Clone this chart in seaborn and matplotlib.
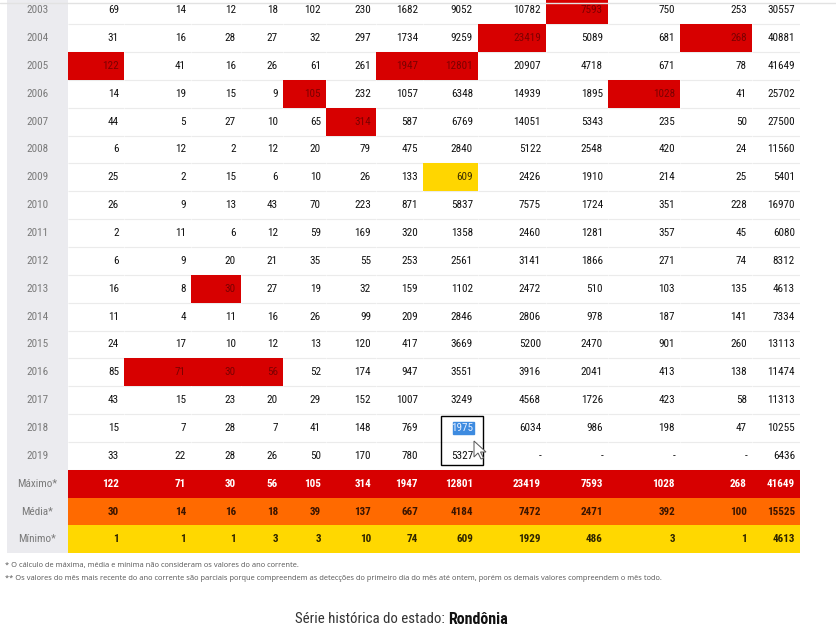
import numpy as np
import pandas as pd
import matplotlib
matplotlib.use('Agg')
import matplotlib.pyplot as plt
from matplotlib.colors import ListedColormap
from matplotlib.patches import Rectangle, Polygon
import seaborn as sns

# tabela de focos de queimadas - Rondonia
meses = ['Janeiro', 'Fevereiro', 'Marco', 'Abril', 'Maio', 'Junho', 'Julho',
         'Agosto', 'Setembro', 'Outubro', 'Novembro', 'Dezembro', 'Total']
anos = list(range(2003, 2020))

y2003 = [69, 14, 12, 18, 102, 230, 1682, 9052, 10782, 7593, 750, 253, 30557]
y2004 = [31, 16, 28, 27, 32, 297, 1734, 9259, 23419, 5089, 681, 268, 40881]
y2005 = [122, 41, 16, 26, 61, 261, 1947, 12801, 20907, 4718, 671, 78, 41649]
y2006 = [14, 19, 15, 9, 105, 232, 1057, 6348, 14939, 1895, 1028, 41, 25702]
y2007 = [44, 5, 27, 10, 65, 314, 587, 6769, 14051, 5343, 235, 50, 27500]
y2008 = [6, 12, 2, 12, 20, 79, 475, 2840, 5122, 2548, 420, 24, 11560]
y2009 = [25, 2, 15, 6, 10, 26, 133, 609, 2426, 1910, 214, 25, 5401]
y2010 = [26, 9, 13, 43, 70, 223, 871, 5837, 7575, 1724, 351, 228, 16970]
y2011 = [2, 11, 6, 12, 59, 169, 320, 1358, 2460, 1281, 357, 45, 6080]
y2012 = [6, 9, 20, 21, 35, 55, 253, 2561, 3141, 1866, 271, 74, 8312]
y2013 = [16, 8, 30, 27, 19, 32, 159, 1102, 2472, 510, 103, 135, 4613]
y2014 = [11, 4, 11, 16, 26, 99, 209, 2846, 2806, 978, 187, 141, 7334]
y2015 = [24, 17, 10, 12, 13, 120, 417, 3669, 5200, 2470, 901, 260, 13113]
y2016 = [85, 71, 30, 56, 52, 174, 947, 3551, 3916, 2041, 413, 138, 11474]
y2017 = [43, 15, 23, 20, 29, 152, 1007, 3249, 4568, 1726, 423, 58, 11313]
y2018 = [15, 7, 28, 7, 41, 148, 769, 1975, 6034, 986, 198, 47, 10255]
y2019 = [33, 22, 28, 26, 50, 170, 780, 5327, None, None, None, None, 6436]

maximo = [122, 71, 30, 56, 105, 314, 1947, 12801, 23419, 7593, 1028, 268, 41649]
media = [30, 14, 16, 18, 39, 137, 667, 4184, 7472, 2471, 392, 100, 15525]
minimo = [1, 1, 1, 3, 3, 10, 74, 609, 1929, 486, 3, 1, 4613]
resumo = ['Máximo*', 'Média*', 'Mínimo*']

nota1 = '* O cálculo de máxima, média e mínima não consideram os valores do ano corrente.'
nota2 = ('** Os valores do mês mais recente do ano corrente são parciais porque compreendem '
         'as detecções do primeiro dia do mês até ontem, porém os demais valores compreendem o mês todo.')


def main():
    linhas = [y2003, y2004, y2005, y2006, y2007, y2008, y2009, y2010, y2011,
              y2012, y2013, y2014, y2015, y2016, y2017, y2018, y2019]
    df = pd.DataFrame(linhas, index=anos, columns=meses, dtype=float)
    tab = pd.concat([df, pd.DataFrame([maximo, media, minimo], index=resumo, columns=meses, dtype=float)])

    # codigos de cor: 0 normal, 1 maximo do mes, 2 minimo do mes, 3/4/5 linhas de resumo
    cod = np.zeros(tab.shape, dtype=int)
    for j, m in enumerate(meses[:-1]):
        col = df[m].values
        cod[:len(anos), j][col == maximo[j]] = 1
        cod[:len(anos), j][col == minimo[j]] = 2
    cod[len(anos):, :] = np.array([[3], [4], [5]])
    rotulos = tab.map(lambda v: '-' if pd.isna(v) else '%d' % v).values

    sns.set_theme(style='white')
    plt.rcParams['font.family'] = ['Roboto Condensed', 'DejaVu Sans']

    W, H = 836, 640
    fig = plt.figure(figsize=(W / 100, H / 100), dpi=100)
    fig.patch.set_facecolor('white')

    topo, alt = -3.7, 27.85
    nlin = tab.shape[0]
    base = topo + nlin * alt

    def eixo(x0, x1):
        return fig.add_axes([x0 / W, (H - base) / H, (x1 - x0) / W, nlin * alt / H])

    cores = [(1, 1, 1, 0), '#d70000', '#ffd600', '#d70000', '#ff6a00', '#ffd800']
    cor_txt = ['#111111', '#7c0000', '#3b2e00', '#ffffff', '#3a1400', '#2e2500']
    cmap = ListedColormap(cores)
    tam = 8.0

    # coluna dos anos
    ax = eixo(7, 68)
    sns.heatmap(np.zeros((nlin, 1)), ax=ax, cmap=ListedColormap(['#ebebef']), cbar=False,
                annot=np.array([[str(a)] for a in tab.index]), fmt='',
                annot_kws={'fontsize': tam, 'color': '#7a7a7a'},
                xticklabels=False, yticklabels=False)
    for t in ax.texts:
        t.set_color('#7a7a7a')

    bordas = [68, 124, 191, 241, 283, 326, 376, 423, 478, 546, 608, 680, 752, 800]
    eixos = []
    for j in range(len(meses)):
        x0, x1 = bordas[j], bordas[j + 1]
        ax = eixo(x0, x1)
        ax.set_facecolor('white')
        ax.hlines(np.arange(1, len(anos) + 1), 0, 1, colors='#ebebeb', lw=0.8, zorder=0.5)
        sns.heatmap(cod[:, [j]], ax=ax, cmap=cmap, vmin=-0.5, vmax=5.5, cbar=False,
                    annot=rotulos[:, [j]], fmt='', annot_kws={'fontsize': tam, 'ha': 'right'},
                    xticklabels=False, yticklabels=False)
        for i, t in enumerate(ax.texts):
            t.set_x(1 - 5.0 / (x1 - x0))
            c = cod[i, j]
            t.set_color(cor_txt[c])
            if c >= 3:
                t.set_fontweight('bold')
        eixos.append(ax)

    # selecao do texto 1975 (agosto 2018)
    ax = eixos[7]
    i18 = anos.index(2018)
    ax.add_patch(Rectangle((0.55, i18 + 0.29), 0.37, 0.43, color='#3d8be0', zorder=2))
    ax.texts[i18].set_color('#e8f0ff')

    fig.add_artist(Rectangle((441 / W, (H - 465) / H), 42 / W, 49 / H, fill=False,
                             edgecolor='black', lw=1.0, transform=fig.transFigure))
    cursor = np.array([[474, 441], [474, 457], [478, 453], [481, 459], [483.5, 458],
                       [480.5, 452], [486, 452]])
    fig.add_artist(Polygon(np.c_[cursor[:, 0] / W, (H - cursor[:, 1]) / H], closed=True,
                           facecolor='white', edgecolor='#555555', lw=0.7,
                           transform=fig.transFigure))

    fig.add_artist(plt.Line2D([0, 1], [(H - 2.5) / H] * 2, color='#e2e2e2', lw=1.0,
                              transform=fig.transFigure))

    fig.text(5 / W, (H - 566) / H, nota1, fontsize=5.4, color='#555555', va='center',
             family=['Open Sans', 'DejaVu Sans'])
    fig.text(5 / W, (H - 578) / H, nota2, fontsize=5.4, color='#555555', va='center',
             family=['Open Sans', 'DejaVu Sans'])

    fig.text(445 / W, (H - 619) / H, 'Série histórica do estado:', fontsize=10.7,
             color='#333333', ha='right', va='center')
    fig.text(448 / W, (H - 619) / H, 'Rondônia', fontsize=11.5, fontweight='bold',
             color='#111111', ha='left', va='center')

    fig.savefig('out.png', dpi=100, facecolor='white')
    plt.close(fig)


if __name__ == '__main__':
    main()
